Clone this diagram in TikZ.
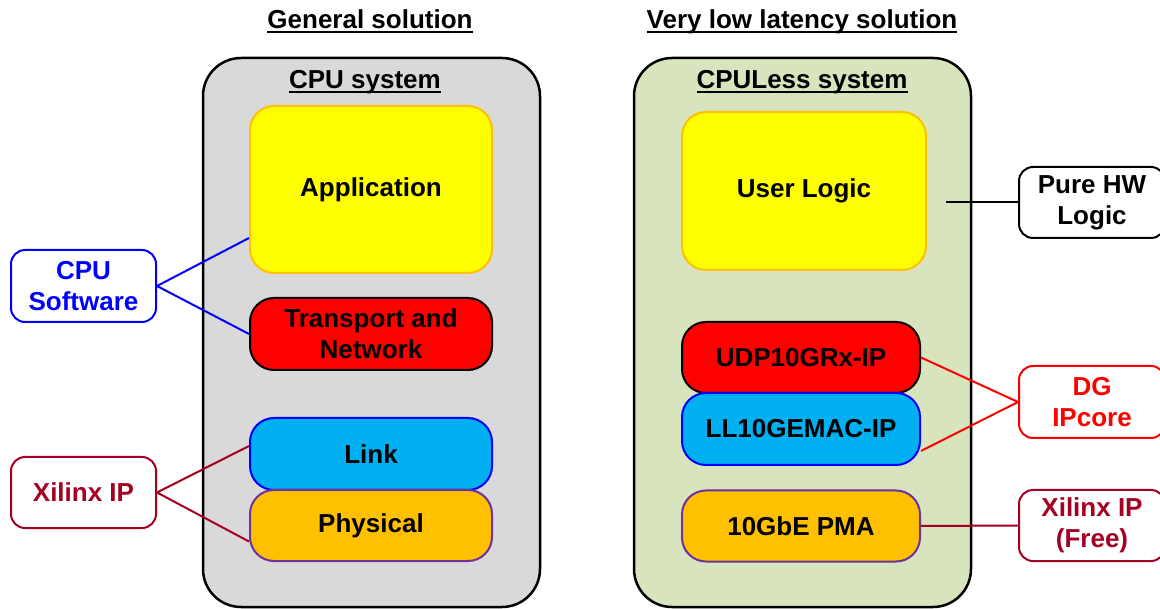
\documentclass[tikz,border=0pt]{standalone}
\usepackage{fontspec}
\setmainfont{Liberation Sans}
\usetikzlibrary{calc}
\definecolor{panelgray}{HTML}{D9D9D9}
\definecolor{panelgreen}{HTML}{D7E4BD}
\definecolor{appyellow}{HTML}{FFFF00}
\definecolor{appedge}{HTML}{FFC000}
\definecolor{netred}{HTML}{FF0000}
\definecolor{linkcyan}{HTML}{00B0F0}
\definecolor{linkedge}{HTML}{0000FF}
\definecolor{phyorange}{HTML}{FFC000}
\definecolor{phyedge}{HTML}{7030A0}
\definecolor{xilred}{HTML}{A50021}
\definecolor{swblue}{HTML}{0000FF}
% heading text with a heavier underline
\newcommand{\ulbox}[1]{\setbox0\hbox{#1}\rlap{\copy0}\rule[-4.5pt]{\wd0}{2pt}}
\begin{document}
\begin{tikzpicture}[x=1pt,y=-1pt,
  every node/.style={font=\fontsize{26}{31}\selectfont\bfseries, align=center, inner sep=0pt},
  heading/.style={anchor=base},
  panel/.style={draw=black, line width=2.5pt, rounded corners=38pt, minimum width=337pt, minimum height=549pt},
  layer/.style={line width=2pt, rounded corners=24pt, minimum width=242pt},
  tag/.style={draw, fill=white, line width=2pt, rounded corners=14pt, minimum width=145pt, minimum height=71pt},
  wire/.style={line width=2pt}]
\useasboundingbox (0,0) rectangle (1160,609);
\fill[white] (0,0) rectangle (1160,609);

% titles
\node[heading] (gen) at (370,29) {\ulbox{General solution}};
\node[heading] (low) at (802,29) {\ulbox{Very low latency solution}};

% system panels
\node[panel, fill=panelgray] (cpusys) at (371.5,332.5) {};
\node[panel, fill=panelgreen] (less) at (802.5,332.5) {};
\node[heading] (cpusyslbl) at (365,89) {\ulbox{CPU system}};
\node[heading] (lesslbl) at (802,89) {\ulbox{CPULess system}};

% CPU system stack
\node[layer, draw=appedge, fill=appyellow, minimum height=167pt] (app) at (371,189.5) {Application};
\node[layer, draw=black, fill=netred, minimum height=72pt] (tn) at (371,334) {Transport and\\Network};
\node[layer, draw=linkedge, fill=linkcyan, minimum height=72pt] (link) at (371,454) {Link};
\node[layer, draw=phyedge, fill=phyorange, minimum height=71pt] (phys) at (371,525.5) {Physical};

% CPULess stack
\node[layer, draw=appedge, fill=appyellow, minimum width=244pt, minimum height=158pt] (ulog) at (804,191) {User Logic};
\node[layer, draw=black, fill=netred, minimum width=238pt, minimum height=71pt] (udp) at (801,357.5) {UDP10GRx-IP};
\node[layer, draw=linkedge, fill=linkcyan, minimum width=238pt, minimum height=72pt] (mac) at (801,429) {LL10GEMAC-IP};
\node[layer, draw=phyedge, fill=phyorange, minimum width=238pt, minimum height=71pt] (pma) at (801,526) {10GbE PMA};

% side tags
\node[tag, draw=swblue, text=swblue, minimum height=72pt] (cpusw) at (83.5,286) {CPU\\Software};
\node[tag, draw=xilred, text=xilred] (xil) at (83.5,492.5) {Xilinx IP};
\node[tag, draw=black, minimum width=146pt] (hw) at (1092,202.5) {Pure HW\\Logic};
\node[tag, draw=netred, text=netred, minimum width=146pt, minimum height=72pt] (dg) at (1092,402) {DG\\IPcore};
\node[tag, draw=xilred, text=xilred, minimum width=146pt] (xfree) at (1092,525.5) {Xilinx IP\\(Free)};

% connectors
\draw[wire, swblue] ([yshift=-48.5pt]app.west) -- (cpusw.east) -- (tn.west);
\draw[wire, xilred] ([yshift=8pt]link.west) -- (xil.east) -- ([yshift=-16pt]phys.west);
\coordinate (hwtap) at (946,202.5);
\draw[wire, black] (hwtap) -- (hw.west);
\draw[wire, netred] (udp.east) -- (dg.west) -- ([yshift=-22pt]mac.east);
\draw[wire, xilred] (pma.east) -- (xfree.west);
\end{tikzpicture}
\end{document}
